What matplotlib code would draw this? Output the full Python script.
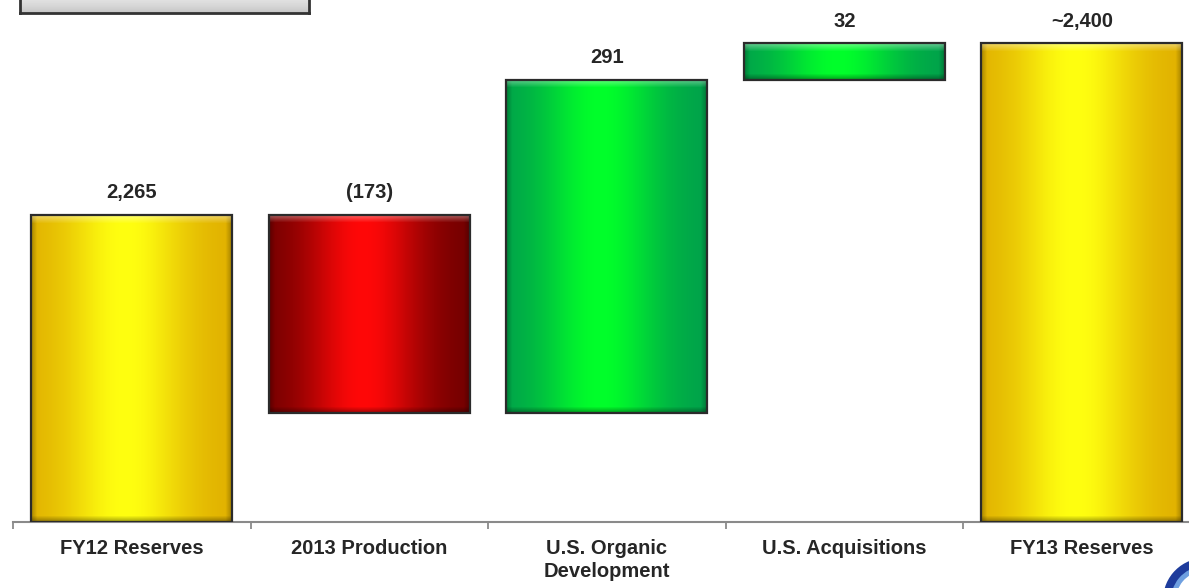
import numpy as np
import matplotlib.pyplot as plt
from matplotlib.patches import Rectangle, Wedge
from matplotlib.colors import to_rgb

# Reserves bridge (waterfall) data
categories = ["FY12 Reserves", "2013 Production", "U.S. Organic\nDevelopment",
              "U.S. Acquisitions", "FY13 Reserves"]
start_value = 2265
deltas = [-173, 291, 32]
value_labels = ["2,265", "(173)", "291", "32", "~2,400"]

W, H = 1189, 588
PX_PER_UNIT = 1.145
Y_FLOOR = 1997

plt.rcParams['font.family'] = ['Liberation Sans', 'DejaVu Sans']

fig = plt.figure(figsize=(W / 100, H / 100), dpi=100)
fig.patch.set_facecolor('white')
ax = fig.add_axes([13 / W, 66 / H, 5 * 237.5 / W, 522 / H])
ax.set_xlim(-0.5, 4.5)
ax.set_ylim(Y_FLOOR, Y_FLOOR + 522 / PX_PER_UNIT)

# bar extents: (bottom, top, palette)
end_value = start_value + sum(deltas)
bars = [(Y_FLOOR, start_value, 'gold')]
running = start_value
for d in deltas:
    lo, hi = sorted([running, running + d])
    bars.append((lo, hi, 'red' if d < 0 else 'green'))
    running += d
bars.append((Y_FLOOR, end_value, 'gold'))

palettes = {
    'gold': ('#e0ae00', '#ffff10'),
    'red': ('#6e0000', '#ff0808'),
    'green': ('#009e4c', '#00ff2a'),
}

BAR_W = 0.846


def bar_image(edge, center, n_rows):
    edge = np.array(to_rgb(edge))
    center = np.array(to_rgb(center))
    t = np.linspace(0, 1, 240)
    w = np.exp(-((t - 0.47) / 0.30) ** 2)
    row = edge[None, :] + (center - edge)[None, :] * w[:, None]
    # darker rims on the sides
    rim = np.clip(1 - np.minimum(t, 1 - t) / 0.03, 0, 1) * 0.25
    row = row * (1 - rim[:, None])
    img = np.repeat(row[None, :, :], n_rows, axis=0)
    # bevel: highlight near the top, shade near the bottom
    for i in range(min(8, n_rows)):
        a = 0.40 * (1 - i / 8)
        img[i] = img[i] * (1 - a) + a
    for i in range(min(6, n_rows)):
        a = 0.35 * (1 - i / 6)
        img[n_rows - 1 - i] = img[n_rows - 1 - i] * (1 - a)
    return np.clip(img, 0, 1)


for i, (lo, hi, kind) in enumerate(bars):
    x0, x1 = i - BAR_W / 2, i + BAR_W / 2
    n_rows = max(int(round((hi - lo) * PX_PER_UNIT)), 2)
    edge, center = palettes[kind]
    ax.imshow(bar_image(edge, center, n_rows), extent=(x0, x1, lo, hi),
              aspect='auto', origin='upper', interpolation='bilinear', zorder=2)
    ax.add_patch(Rectangle((x0, lo), BAR_W, hi - lo, facecolor='none',
                           edgecolor='#2b2b2b', linewidth=1.6, zorder=3))
    ax.annotate(value_labels[i], (i, hi), xytext=(0, 12), textcoords='offset points',
                ha='center', va='baseline', fontsize=14.5, fontweight='bold',
                color='#262626', zorder=4)

ax.set_xlim(-0.5, 4.5)
ax.set_ylim(Y_FLOOR, Y_FLOOR + 522 / PX_PER_UNIT)

ax.set_xticks(range(len(categories)))
ax.set_xticklabels(categories, fontsize=14.5, fontweight='bold', color='#262626',
                   linespacing=1.3)
ax.set_xticks(np.arange(-0.5, len(categories), 1.0), minor=True)
ax.tick_params(axis='x', which='major', length=0, pad=12)
ax.tick_params(axis='x', which='minor', length=5, width=1.3, color='#8a8a8a')
ax.set_yticks([])
for side in ('left', 'right', 'top'):
    ax.spines[side].set_visible(False)
ax.spines['bottom'].set_color('#8a8a8a')
ax.spines['bottom'].set_linewidth(1.5)
ax.patch.set_visible(False)

# header box at the top-left
box = fig.add_axes([20 / W, (H - 13) / H, 289 / W, 40 / H])
grad = np.linspace(0, 1, 60)[:, None]
shade = 0.93 - 0.16 * grad ** 3
box.imshow(np.repeat(shade, 10, axis=1), cmap='gray', vmin=0, vmax=1,
           aspect='auto', origin='upper', extent=(0, 1, 0, 1))
box.set_xticks([])
box.set_yticks([])
for s in box.spines.values():
    s.set_color('#333333')
    s.set_linewidth(2)

# corner emblem
cx, cy = 1205 / 100, -12 / 100
fig.patches.append(Wedge((cx, cy), 0.42, 95, 185, width=0.09, facecolor='#1e3c9c',
                         edgecolor='none', transform=fig.dpi_scale_trans, figure=fig))
fig.patches.append(Wedge((cx, cy), 0.34, 95, 185, width=0.05, facecolor='#6fa0e0',
                         edgecolor='none', transform=fig.dpi_scale_trans, figure=fig))

fig.savefig('out.png', dpi=100)
